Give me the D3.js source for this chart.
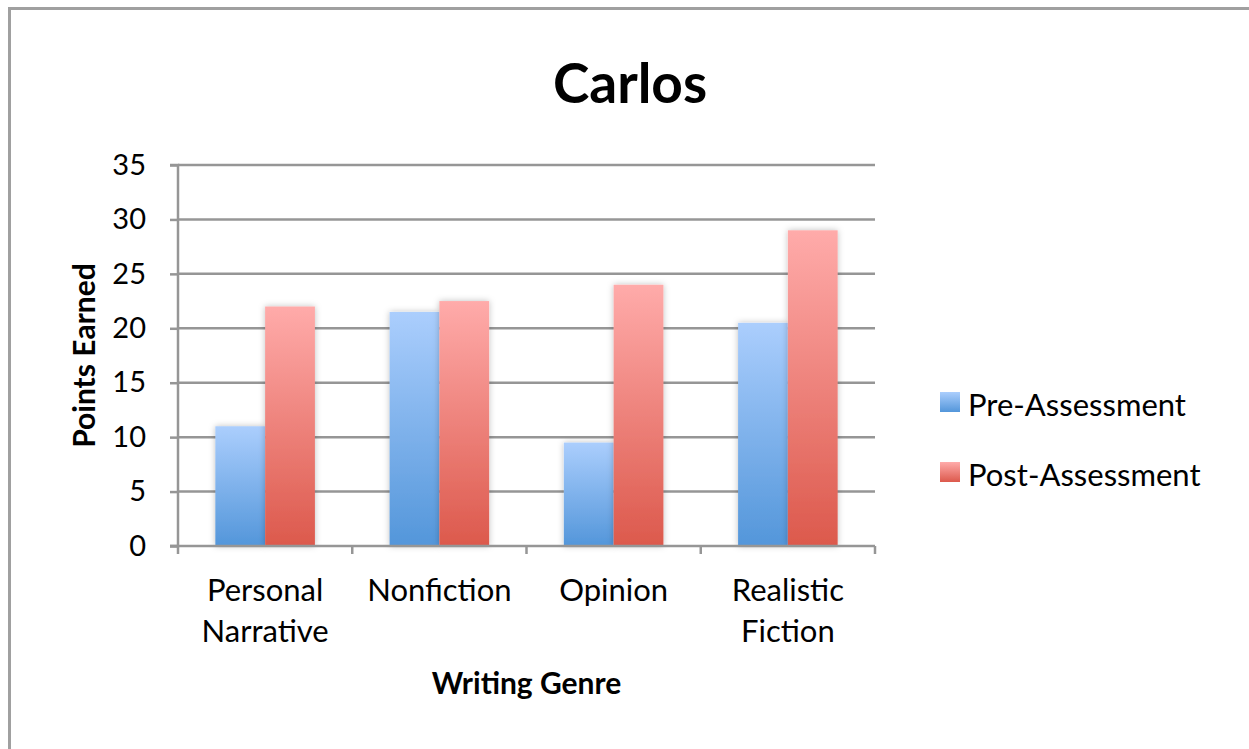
<!DOCTYPE html>
<html>
<head>
<meta charset="utf-8">
<script src="https://cdn.jsdelivr.net/npm/d3@7"></script>
<style>
  body { margin: 0; background: #fff; }
  svg { display: block; font-family: Lato, "Open Sans", sans-serif; }
</style>
</head>
<body>
<svg id="drawing_region"></svg>
<script>
const categories = [["Personal", "Narrative"], ["Nonfiction"], ["Opinion"], ["Realistic", "Fiction"]];
const seriesNames = ["Pre-Assessment", "Post-Assessment"];
const preValues = [11, 21.5, 9.5, 20.5];
const postValues = [22, 22.5, 24, 29];
const yTicks = [0, 5, 10, 15, 20, 25, 30, 35];

const width = 1249, height = 749;
const margin = {top: 165, left: 178, right: 374, bottom: 203};
const innerW = width - margin.left - margin.right;
const innerH = height - margin.top - margin.bottom;

const svg = d3.select('#drawing_region')
    .attr('width', width)
    .attr('height', height);

// outer frame
svg.append('rect')
    .attr('x', 9.5).attr('y', 8.5)
    .attr('width', 1250).attr('height', 760)
    .attr('fill', '#fff')
    .attr('stroke', '#a0a0a0')
    .attr('stroke-width', 3);

const defs = svg.append('defs');
const grads = [
    {id: 'gPre', top: '#abcefd', bottom: '#5396da'},
    {id: 'gPost', top: '#ffabaa', bottom: '#dc594c'}
];
grads.forEach(g => {
    const lg = defs.append('linearGradient')
        .attr('id', g.id).attr('x1', 0).attr('y1', 0).attr('x2', 0).attr('y2', 1);
    lg.append('stop').attr('offset', '0%').attr('stop-color', g.top);
    lg.append('stop').attr('offset', '100%').attr('stop-color', g.bottom);
});
const f = defs.append('filter').attr('id', 'shadow')
    .attr('x', '-30%').attr('y', '-10%').attr('width', '160%').attr('height', '120%');
f.append('feDropShadow')
    .attr('dx', 0).attr('dy', 0).attr('stdDeviation', 3)
    .attr('flood-color', '#000').attr('flood-opacity', 0.25);

const chart = svg.append('g')
    .attr('transform', `translate(${margin.left}, ${margin.top})`);

const xscale = d3.scaleBand()
    .domain(d3.range(categories.length))
    .range([0, innerW]);

const yscale = d3.scaleLinear()
    .domain([0, 35])
    .range([innerH, 0]);

const inner = d3.scaleBand()
    .domain([0, 1])
    .range([0, xscale.bandwidth()])
    .paddingOuter(0.75)
    .paddingInner(0);

// gridlines
chart.append('g')
    .selectAll('line')
    .data(yTicks.filter(t => t > 0))
    .join('line')
    .attr('x1', 0).attr('x2', innerW)
    .attr('y1', d => yscale(d)).attr('y2', d => yscale(d))
    .attr('stroke', '#969696')
    .attr('stroke-width', 2.5);

// bars
const groups = chart.append('g')
    .selectAll('g')
    .data(categories.map((c, i) => i))
    .join('g')
    .attr('transform', i => `translate(${xscale(i)}, 0)`);

groups.selectAll('rect')
    .data(i => [preValues[i], postValues[i]].map((v, k) => ({v, k})))
    .join('rect')
    .attr('x', d => inner(d.k))
    .attr('y', d => yscale(d.v))
    .attr('width', inner.bandwidth())
    .attr('height', d => innerH - yscale(d.v))
    .attr('fill', d => d.k === 0 ? 'url(#gPre)' : 'url(#gPost)')
    .attr('filter', 'url(#shadow)');

// y axis
const yaxis = d3.axisLeft(yscale)
    .tickValues(yTicks)
    .tickSize(8)
    .tickPadding(24);
const yg = chart.append('g').call(yaxis);
yg.select('.domain').attr('stroke', '#969696').attr('stroke-width', 2.5)
    .attr('d', `M-8,${innerH}H0V0H-8`);
yg.selectAll('.tick line').attr('stroke', '#969696').attr('stroke-width', 2.5);
yg.selectAll('.tick text').attr('font-size', 29).attr('fill', '#000')
    .attr('font-family', 'Lato, sans-serif');

// x axis line with category boundary ticks
const xg = chart.append('g').attr('transform', `translate(0, ${innerH})`);
xg.append('line')
    .attr('x1', -8).attr('x2', innerW)
    .attr('stroke', '#969696').attr('stroke-width', 2.5);
xg.selectAll('line.tk')
    .data(d3.range(categories.length + 1))
    .join('line')
    .attr('class', 'tk')
    .attr('x1', i => i < categories.length ? xscale(i) : innerW)
    .attr('x2', i => i < categories.length ? xscale(i) : innerW)
    .attr('y1', 0).attr('y2', 8)
    .attr('stroke', '#969696').attr('stroke-width', 2.5);

const xl = xg.selectAll('text.cat')
    .data(categories)
    .join('text')
    .attr('class', 'cat')
    .attr('x', (d, i) => xscale(i) + xscale.bandwidth() / 2)
    .attr('y', 55)
    .attr('text-anchor', 'middle')
    .attr('font-size', 31)
    .attr('fill', '#000');
xl.selectAll('tspan')
    .data(d => d)
    .join('tspan')
    .attr('x', function() { return this.parentNode.getAttribute('x'); })
    .attr('dy', (d, j) => j === 0 ? 0 : 41)
    .text(d => d);

// titles
svg.append('text')
    .attr('x', 630).attr('y', 103)
    .attr('text-anchor', 'middle')
    .attr('font-size', 55).attr('font-weight', 'bold')
    .text('Carlos');

svg.append('text')
    .attr('x', margin.left + innerW / 2).attr('y', 694)
    .attr('text-anchor', 'middle')
    .attr('font-size', 30).attr('font-weight', 'bold')
    .text('Writing Genre');

svg.append('text')
    .attr('transform', `translate(95, ${margin.top + innerH / 2}) rotate(-90)`)
    .attr('text-anchor', 'middle')
    .attr('font-size', 30).attr('font-weight', 'bold')
    .text('Points Earned');

// legend
const legend = svg.append('g').attr('transform', 'translate(940, 392)');
const items = legend.selectAll('g')
    .data(seriesNames)
    .join('g')
    .attr('transform', (d, i) => `translate(0, ${i * 70})`);
items.append('rect')
    .attr('width', 20).attr('height', 20)
    .attr('fill', (d, i) => i === 0 ? 'url(#gPre)' : 'url(#gPost)');
items.append('text')
    .attr('x', 28).attr('y', 24)
    .attr('font-size', 31)
    .text(d => d);
</script>
</body>
</html>
